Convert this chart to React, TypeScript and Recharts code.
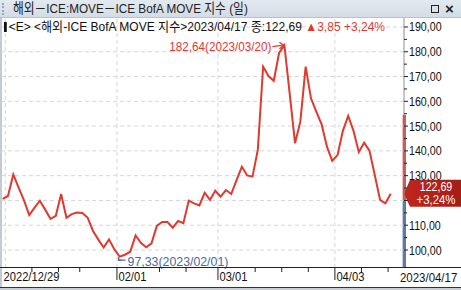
import React from 'react';
import { LineChart, Line, XAxis, YAxis, ReferenceLine, ReferenceDot, ReferenceArea } from 'recharts';

const dates = [
  '2022/12/29', '2022/12/30', '2023/01/03', '2023/01/04', '2023/01/05', '2023/01/06',
  '2023/01/09', '2023/01/10', '2023/01/11', '2023/01/12', '2023/01/13',
  '2023/01/17', '2023/01/18', '2023/01/19', '2023/01/20',
  '2023/01/23', '2023/01/24', '2023/01/25', '2023/01/26', '2023/01/27',
  '2023/01/30', '2023/01/31', '2023/02/01', '2023/02/02', '2023/02/03',
  '2023/02/06', '2023/02/07', '2023/02/08', '2023/02/09', '2023/02/10',
  '2023/02/13', '2023/02/14', '2023/02/15', '2023/02/16', '2023/02/17',
  '2023/02/21', '2023/02/22', '2023/02/23', '2023/02/24',
  '2023/02/27', '2023/02/28', '2023/03/01', '2023/03/02', '2023/03/03',
  '2023/03/06', '2023/03/07', '2023/03/09', '2023/03/10',
  '2023/03/13', '2023/03/14', '2023/03/15', '2023/03/16', '2023/03/17',
  '2023/03/20', '2023/03/21', '2023/03/22', '2023/03/23', '2023/03/24',
  '2023/03/27', '2023/03/28', '2023/03/29', '2023/03/30', '2023/03/31',
  '2023/04/03', '2023/04/04', '2023/04/05', '2023/04/06', '2023/04/07',
  '2023/04/10', '2023/04/11', '2023/04/12', '2023/04/13', '2023/04/14',
  '2023/04/17',
];

const values = [
  120.6, 121.8, 130.5, 125.2, 120.1, 114.1,
  117.1, 119.9, 116.3, 112.6, 113.8,
  122.6, 113.0, 114.5, 115.1,
  114.9, 113.0, 107.7, 104.2, 101.0,
  104.3, 100.3, 97.33, 98.1, 99.3,
  105.9, 102.9, 101.1, 102.7, 109.7,
  111.3, 111.3, 109.0, 111.7, 110.8,
  119.9, 118.8, 118.0, 123.1,
  120.2, 123.9, 121.5, 124.2, 122.6,
  128.2, 133.6, 130.1, 129.6,
  140.4, 174.0, 170.2, 168.3, 179.5,
  182.64, 163.0, 143.1, 151.8, 174.0,
  161.2, 155.8, 150.7, 141.7, 136.0,
  138.3, 148.1, 154.1, 148.1, 139.5,
  143.3, 140.1, 130.3, 120.2, 118.84,
  122.69,
];

const yTicks = [100, 105, 110, 115, 120, 125, 130, 135, 140, 145, 150, 155, 160, 165, 170, 175, 180, 185, 190];
const yDomain = [92.74, 193.62];
const rangeBar = { high: 154.5, mid: 120.2, low: 92.74 };

const titleText = '해외－ICE:MOVE－ICE BofA MOVE 지수 (일)';
const seriesName = '해외-ICE BofA MOVE 지수';

const FONT = "'Liberation Sans', Arial, 'Noto Sans CJK KR', sans-serif";
const RED = '#e0392f';
const BLUE = '#4a6a9c';

const fmt = (v: number) => v.toFixed(2).replace('.', ',');

const data = values.map((v, i) => ({ i, date: dates[i], v }));
const lastIdx = values.length - 1;
const last = values[lastIdx];
const prev = values[lastIdx - 1];
const chg = last - prev;
const pct = (chg / prev) * 100;
const peakIdx = values.indexOf(Math.max(...values));
const minIdx = values.indexOf(Math.min(...values));

// major ticks: first date + first trading day of each month; minor: first trading day of each week
const majorIdx: number[] = [0];
const weekIdx: number[] = [];
for (let k = 1; k < dates.length; k++) {
  const a = new Date(dates[k - 1].replace(/\//g, '-'));
  const b = new Date(dates[k].replace(/\//g, '-'));
  if (a.getMonth() !== b.getMonth() && k > 8) majorIdx.push(k);
  else if (b.getDay() <= a.getDay() || (b.getTime() - a.getTime()) > 3 * 86400000) weekIdx.push(k);
}
const minorIdx = weekIdx.filter((k) => k > 3 && majorIdx.every((m) => Math.abs(m - k) > 3));
const xTicks = [...majorIdx, ...minorIdx].sort((a, b) => a - b).map((k) => k - 0.5);

const SText = (p: any) => (
  <text
    transform={`translate(${p.x},${p.y}) scale(${p.sx},1)`}
    x={0}
    y={0}
    fontSize={p.size || 13}
    fontFamily={FONT}
    fill={p.fill || '#111'}
    textAnchor={p.anchor || 'start'}
  >
    {p.children}
  </text>
);

const XTick = (props: any) => {
  const { x, y, payload } = props;
  const idx = Math.round(payload.value + 0.5);
  const isMajor = majorIdx.includes(idx);
  if (!isMajor) {
    return <line x1={x} x2={x} y1={y} y2={y + 4} stroke="#222" strokeWidth={1} />;
  }
  const label = idx === 0 ? dates[idx] : dates[idx].slice(5);
  const tx = idx === 0 ? x + 3.5 : x + 1.5;
  return (
    <g>
      {idx !== 0 && <line x1={x} x2={x} y1={y} y2={y + 12} stroke="#222" strokeWidth={1} />}
      <SText x={tx} y={y + 13} sx={0.86}>{label}</SText>
    </g>
  );
};

const YTick = (props: any) => {
  const { x, y, payload } = props;
  const v = payload.value;
  const major = v % 10 === 0;
  const hidden = Math.abs(v - last) < 6;
  return (
    <g>
      <line x1={x} x2={x + (major ? 4 : 3)} y1={y} y2={y} stroke="#222" strokeWidth={1} />
      {major && !hidden && <SText x={x + 5} y={y + 4.5} sx={0.82}>{fmt(v)}</SText>}
    </g>
  );
};

const PeakShape = (props: any) => {
  const { cx, cy } = props;
  return (
    <g>
      <SText x={cx - 13} y={cy + 6} sx={0.9} fill={RED} anchor="end">
        {`${fmt(values[peakIdx])}(${dates[peakIdx]})`}
      </SText>
      <line x1={cx - 12} y1={cy + 1.5} x2={cx - 1} y2={cy} stroke={RED} strokeWidth={1.3} />
      <path d={`M ${cx - 5} ${cy - 3} L ${cx - 0.5} ${cy} L ${cx - 5} ${cy + 3.5}`} fill="none" stroke={RED} strokeWidth={1.3} />
    </g>
  );
};

const MinShape = (props: any) => {
  const { cx, cy } = props;
  return (
    <g>
      <line x1={cx - 1} y1={cy + 3.5} x2={cx + 6} y2={cy + 3.5} stroke={BLUE} strokeWidth={1.2} />
      <path d={`M ${cx - 1} ${cy + 0.5} L ${cx - 1} ${cy + 3.5} L ${cx + 2} ${cy + 3.5}`} fill="none" stroke={BLUE} strokeWidth={1.4} />
      <SText x={cx + 8} y={cy + 9.5} sx={0.95} fill={BLUE}>
        {`${fmt(values[minIdx])}(${dates[minIdx]})`}
      </SText>
    </g>
  );
};

const FlagLabel = (props: any) => {
  const vb = props.viewBox || {};
  const x0 = vb.x + vb.width;
  const y0 = vb.y;
  const d = `M ${x0} ${y0} L ${x0 + 6} ${y0 - 14} L ${x0 + 57} ${y0 - 14} L ${x0 + 57} ${y0 + 13} L ${x0 + 6} ${y0 + 13} Z`;
  return (
    <g>
      <defs>
        <linearGradient id="flagGrad" x1="0" y1="0" x2="1" y2="0">
          <stop offset="0" stopColor="#c0261d" />
          <stop offset="1" stopColor="#a51d16" />
        </linearGradient>
      </defs>
      <path d={d} fill="url(#flagGrad)" />
      <SText x={x0 + 32} y={y0 - 2.5} sx={0.82} fill="#fff" anchor="middle">{fmt(last)}</SText>
      <SText x={x0 + 32} y={y0 + 10} sx={0.88} fill="#fff" anchor="middle">{`+${fmt(pct)}%`}</SText>
    </g>
  );
};

const scaled = (s: number): React.CSSProperties => ({ transform: `scaleX(${s})`, transformOrigin: '0 0' });

export default function App() {
  return (
    <div style={{ position: 'absolute', left: 0, top: 0, width: 461, height: 290, background: '#fff', overflow: 'hidden', fontFamily: FONT }}>
      {/* title bar */}
      <div style={{ position: 'absolute', left: 0, top: 0, width: 461, height: 18, background: 'linear-gradient(#e3e9f0, #d3dce6)', borderBottom: '1px solid #b8c2cd', boxSizing: 'border-box' }}>
        <div style={{ position: 'absolute', left: 2, top: 3, width: 2, height: 12, borderLeft: '2px dotted #9aa6b4' }} />
        <div style={{ position: 'absolute', left: 13, top: 0, height: 18, lineHeight: '18px', fontSize: 13.5, color: '#222', whiteSpace: 'nowrap', ...scaled(0.87) }}>{titleText}</div>
        <div style={{ position: 'absolute', left: 431, top: 5, width: 8, height: 8, border: '1.5px solid #222', boxSizing: 'border-box' }} />
        <div style={{ position: 'absolute', left: 445, top: 0, height: 18, lineHeight: '17px', fontSize: 15, color: '#222', fontWeight: 'bold' }}>×</div>
      </div>
      {/* left border */}
      <div style={{ position: 'absolute', left: 0, top: 18, width: 2, height: 270, background: '#c3cad3' }} />
      {/* chart */}
      <div style={{ position: 'absolute', left: 0, top: 18 }}>
        <LineChart width={461} height={272} data={data} margin={{ top: 0, right: 0, bottom: 0, left: 0 }}>
          {yTicks.filter((t) => t % 10 === 0).map((t) => (
            <ReferenceLine key={'h' + t} y={t} stroke="#d6d6d6" strokeDasharray="4 3" ifOverflow="visible" />
          ))}
          {majorIdx.map((k) => (
            <ReferenceLine key={'v' + k} x={k === 0 ? k + 0.5 : k - 0.5} stroke="#d6d6d6" strokeDasharray="4 3" />
          ))}
          <XAxis dataKey="i" type="number" domain={[-0.5, 75.5]} ticks={xTicks} interval={0} tick={<XTick />} tickSize={0} tickMargin={0} axisLine={false} tickLine={false} height={22} allowDataOverflow />
          <YAxis orientation="right" domain={yDomain} ticks={yTicks} interval={0} tick={<YTick />} tickSize={0} tickMargin={0} width={57} axisLine={{ stroke: '#8f8f8f' }} tickLine={false} allowDataOverflow />
          <Line dataKey="v" type="linear" stroke={RED} strokeWidth={2} dot={false} isAnimationActive={false} />
          <ReferenceArea x1={75.25} x2={75.85} y1={rangeBar.mid} y2={rangeBar.high} fill="#e0392f" fillOpacity={1} stroke="none" ifOverflow="visible" />
          <ReferenceArea x1={75.25} x2={75.85} y1={rangeBar.low} y2={rangeBar.mid} fill="#3f64a4" fillOpacity={1} stroke="none" ifOverflow="visible" />
          <ReferenceDot x={peakIdx} y={values[peakIdx]} r={0} shape={PeakShape} ifOverflow="visible" />
          <ReferenceDot x={minIdx} y={values[minIdx]} r={0} shape={MinShape} ifOverflow="visible" />
          <ReferenceLine y={last} stroke="none" label={FlagLabel} ifOverflow="visible" />
        </LineChart>
      </div>
      {/* header line */}
      <div style={{ position: 'absolute', left: 4, top: 19, height: 16, lineHeight: '16px', fontSize: 13, whiteSpace: 'nowrap', color: '#111', ...scaled(0.925) }}>
        <span style={{ display: 'inline-block', width: 3, height: 10, background: '#111', marginRight: 2, verticalAlign: '-1px' }} />
        {`<E> <${seriesName}>${dates[lastIdx]} 종:${fmt(last)} `}
        <span style={{ color: RED }}>{`▲${fmt(chg)} +${fmt(pct)}%`}</span>
      </div>
      {/* x axis line full width */}
      <div style={{ position: 'absolute', left: 0, top: 267, width: 461, height: 1, background: '#222' }} />
      {/* right date label */}
      <div style={{ position: 'absolute', left: 400, top: 270, height: 15, lineHeight: '15px', fontSize: 13, color: '#111', whiteSpace: 'nowrap', ...scaled(0.88) }}>{dates[lastIdx]}</div>
      {/* bottom border */}
      <div style={{ position: 'absolute', left: 0, top: 287, width: 461, height: 1, background: '#333' }} />
      <div style={{ position: 'absolute', left: 0, top: 288, width: 461, height: 2, background: '#c9ced5' }} />
    </div>
  );
}
